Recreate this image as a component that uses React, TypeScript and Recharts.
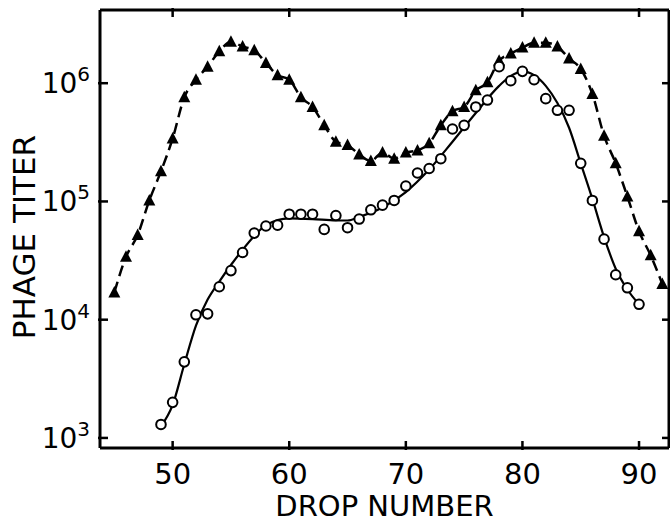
import React from "react";
import {
  ComposedChart,
  Line,
  Scatter,
  XAxis,
  YAxis,
} from "recharts";

// triangles (dashed curve through points)
const triDrops = [45, 46, 47, 48, 49, 50, 51, 52, 53, 54, 55, 56, 57, 58, 59, 60, 61, 62, 63, 64, 65, 66, 67, 68, 69, 70, 71, 72, 73, 74, 75, 76, 77, 78, 79, 80, 81, 82, 83, 84, 85, 86, 87, 88, 89, 90, 91, 92];
const triTiter = [
  1.7e4, 3.4e4, 5.2e4, 1.02e5, 1.8e5, 3.4e5, 7.6e5, 1.07e6, 1.38e6, 1.86e6,
  2.24e6, 2.04e6, 1.9e6, 1.48e6, 1.17e6, 1.07e6, 7.6e5, 6.3e5, 4.4e5, 3.2e5,
  3.0e5, 2.5e5, 2.2e5, 2.6e5, 2.3e5, 2.6e5, 2.7e5, 3.1e5, 4.4e5, 5.8e5,
  6.3e5, 8.7e5, 1.02e6, 1.55e6, 1.78e6, 2.0e6, 2.2e6, 2.2e6, 2.04e6, 1.62e6,
  1.32e6, 8.1e5, 3.6e5, 2.1e5, 1.1e5, 5.6e4, 3.5e4, 2.0e4,
];

// open circles
const circDrops = [49, 50, 51, 52, 53, 54, 55, 56, 57, 58, 59, 60, 61, 62, 63, 64, 65, 66, 67, 68, 69, 70, 71, 72, 73, 74, 75, 76, 77, 78, 79, 80, 81, 82, 83, 84, 85, 86, 87, 88, 89, 90];
const circTiter = [
  1.3e3, 2.0e3, 4.4e3, 1.1e4, 1.12e4, 1.9e4, 2.6e4, 3.7e4, 5.4e4, 6.2e4,
  6.3e4, 7.8e4, 7.8e4, 7.8e4, 5.8e4, 7.6e4, 6.0e4, 7.1e4, 8.5e4, 9.3e4,
  1.02e5, 1.35e5, 1.74e5, 1.9e5, 2.3e5, 4.1e5, 4.4e5, 6.3e5, 7.2e5, 1.38e6,
  1.05e6, 1.26e6, 1.07e6, 7.4e5, 5.9e5, 5.9e5, 2.1e5, 1.02e5, 4.8e4, 2.4e4,
  1.86e4, 1.35e4,
];

// smooth solid curve drawn through the circles
const fitDrops = [49, 50, 51, 52, 53, 54, 55, 56, 57, 58, 60, 62, 64, 65, 66, 68, 70, 72, 74, 76, 78, 79, 80, 81, 82, 83, 84, 85, 86, 87, 88, 89, 90];
const fitTiter = [
  1.25e3, 1.9e3, 4.2e3, 8.9e3, 1.48e4, 2.1e4, 2.9e4, 3.9e4, 5.1e4, 6.3e4,
  7.2e4, 7.1e4, 6.9e4, 6.9e4, 7.4e4, 8.9e4, 1.2e5, 1.86e5, 3.2e5, 5.6e5,
  9.5e5, 1.15e6, 1.26e6, 1.17e6, 9.5e5, 6.8e5, 4.2e5, 2.1e5, 1.05e5, 5.0e4,
  2.7e4, 1.8e4, 1.35e4,
];

const xTicks = [50, 60, 70, 80, 90];
const yTicks = [1e3, 1e4, 1e5, 1e6];

const triData = triDrops.map((d, i) => ({ drop: d, titer: triTiter[i] }));
const circData = circDrops.map((d, i) => ({ drop: d, titer: circTiter[i] }));
const fitData = fitDrops.map((d, i) => ({ drop: d, titer: fitTiter[i] }));

const FONT = "DejaVu Sans";

const BottomTick = ({ x, y, payload }: any) => (
  <g>
    <line x1={x} y1={y} x2={x} y2={y - 9} stroke="#000" strokeWidth={2.5} />
    <text x={x} y={y + 34} textAnchor="middle" fontSize={29} fontFamily={FONT} fill="#000">
      {payload.value}
    </text>
  </g>
);

const TopTick = ({ x, y }: any) => (
  <line x1={x} y1={y} x2={x} y2={y + 9} stroke="#000" strokeWidth={2.5} />
);

const LeftTick = ({ x, y, payload }: any) => {
  const exp = Math.round(Math.log10(payload.value));
  return (
    <g>
      <line x1={x} y1={y} x2={x + 10} y2={y} stroke="#000" strokeWidth={2.5} />
      <text x={x - 8} y={y + 10} textAnchor="end" fontSize={28} fontFamily={FONT} fill="#000">
        10
        <tspan dy={-12} fontSize={20}>{exp}</tspan>
      </text>
    </g>
  );
};

const RightTick = ({ x, y }: any) => (
  <line x1={x} y1={y} x2={x - 9} y2={y} stroke="#000" strokeWidth={2.5} />
);

const Triangle = ({ cx, cy }: any) => (
  <polygon points={`${cx},${cy - 6.5} ${cx - 6},${cy + 5} ${cx + 6},${cy + 5}`} fill="#000" />
);

const Circle = ({ cx, cy }: any) => (
  <circle cx={cx} cy={cy} r={4.8} fill="#fff" stroke="#000" strokeWidth={2} />
);

const YTitle = ({ viewBox }: any) => {
  const cx = viewBox.x + 24;
  const cy = viewBox.y + viewBox.height / 2 + 8;
  return (
    <text
      x={cx}
      y={cy}
      transform={`rotate(-90, ${cx}, ${cy})`}
      textAnchor="middle"
      dominantBaseline="central"
      fontSize={31}
      fontFamily={FONT}
      fill="#000"
    >
      PHAGE TITER
    </text>
  );
};

export default function App() {
  return (
    <div style={{ position: "absolute", left: 0, top: 0, background: "#fff" }}>
      <ComposedChart width={670} height={523} margin={{ top: 0, right: 0, bottom: 0, left: 0 }}>
        <XAxis
          xAxisId="bottom"
          type="number"
          dataKey="drop"
          domain={[43.77, 92.57]}
          ticks={xTicks}
          allowDataOverflow
          height={75}
          tickSize={0}
          tickLine={false}
          tick={<BottomTick />}
          axisLine={{ stroke: "#000", strokeWidth: 3 }}
          label={{ value: "DROP NUMBER", position: "insideBottom", offset: 7, fontSize: 29, fontFamily: FONT, fill: "#000" }}
        />
        <XAxis
          xAxisId="top"
          orientation="top"
          type="number"
          dataKey="drop"
          domain={[43.77, 92.57]}
          ticks={xTicks}
          allowDataOverflow
          height={10}
          tickSize={0}
          tickLine={false}
          tick={<TopTick />}
          axisLine={{ stroke: "#000", strokeWidth: 3 }}
        />
        <YAxis
          yAxisId="left"
          scale="log"
          type="number"
          domain={[822, 4.16e6]}
          ticks={yTicks}
          allowDataOverflow
          width={100}
          tickSize={0}
          tickLine={false}
          tick={<LeftTick />}
          axisLine={{ stroke: "#000", strokeWidth: 3 }}
          label={<YTitle />}
        />
        <YAxis
          yAxisId="right"
          orientation="right"
          scale="log"
          type="number"
          domain={[822, 4.16e6]}
          ticks={yTicks}
          allowDataOverflow
          width={1}
          tickSize={0}
          tickLine={false}
          tick={<RightTick />}
          axisLine={{ stroke: "#000", strokeWidth: 3 }}
        />
        <Line
          xAxisId="bottom"
          yAxisId="left"
          data={triData}
          dataKey="titer"
          type="monotone"
          stroke="#000"
          strokeWidth={2.5}
          strokeDasharray="11 6"
          dot={false}
          activeDot={false}
          isAnimationActive={false}
        />
        <Line
          xAxisId="bottom"
          yAxisId="left"
          data={fitData}
          dataKey="titer"
          type="monotone"
          stroke="#000"
          strokeWidth={2.2}
          dot={false}
          activeDot={false}
          isAnimationActive={false}
        />
        <Scatter
          xAxisId="bottom"
          yAxisId="left"
          data={triData}
          dataKey="titer"
          shape={<Triangle />}
          isAnimationActive={false}
        />
        <Scatter
          xAxisId="bottom"
          yAxisId="left"
          data={circData}
          dataKey="titer"
          shape={<Circle />}
          isAnimationActive={false}
        />
      </ComposedChart>
    </div>
  );
}
